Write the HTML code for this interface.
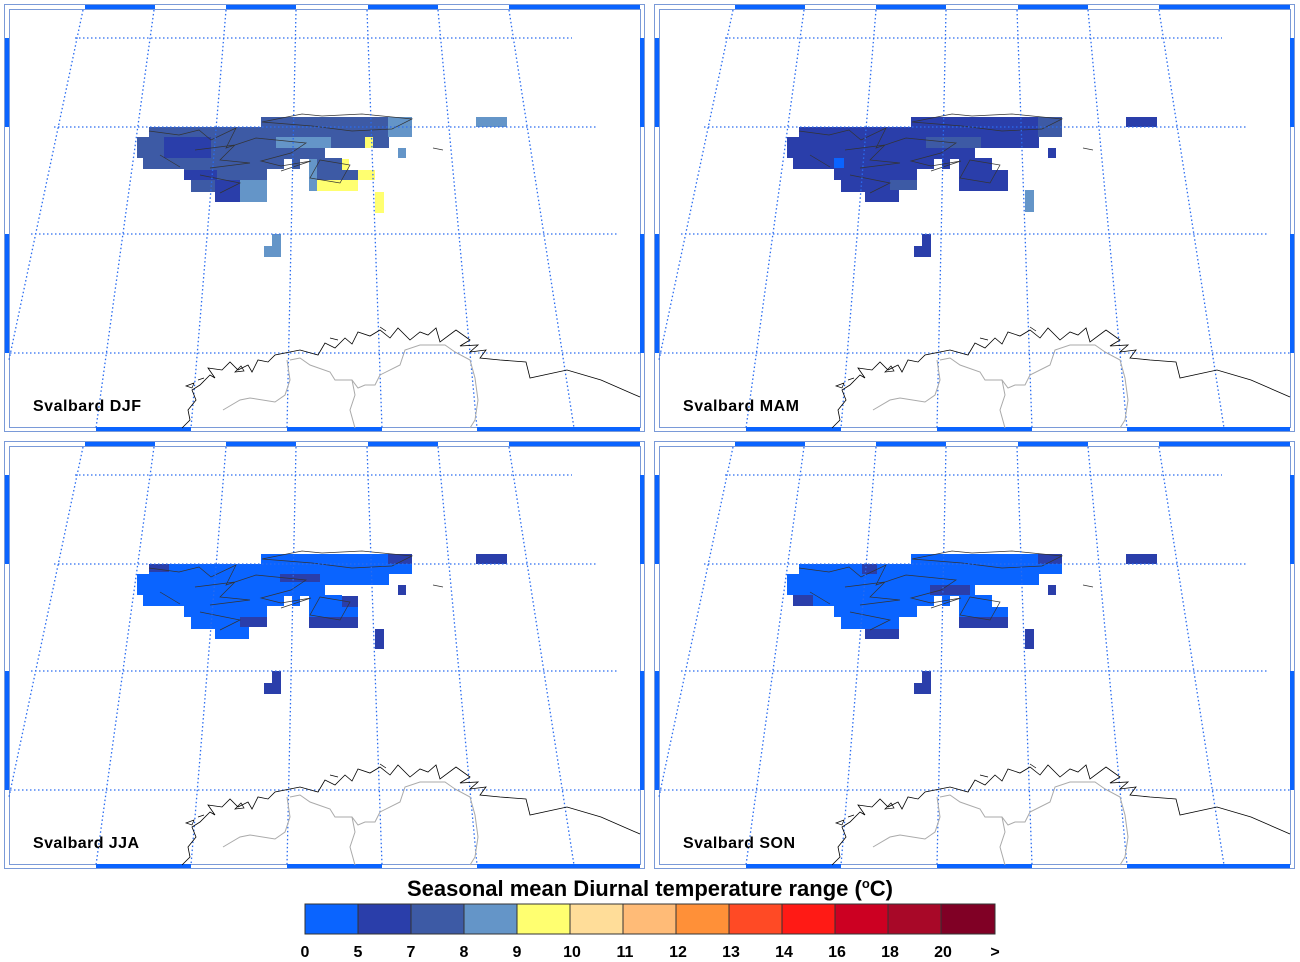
<!DOCTYPE html>
<html><head><meta charset="utf-8"><style>
html,body{margin:0;padding:0;background:#fff;}
svg{display:block;font-family:"Liberation Sans",sans-serif;}
</style></head><body>
<svg width="1300" height="962" viewBox="0 0 1300 962" xmlns="http://www.w3.org/2000/svg">
<defs>
<g id="frame">
  <rect x="4.5" y="4.5" width="640" height="427" fill="none" stroke="#7a9ad8" stroke-width="1"/>
  <rect x="9.5" y="9.5" width="631" height="418" fill="none" stroke="#7a9ad8" stroke-width="1"/>
  <g fill="#0a64ff">
    <rect x="85" y="5" width="70" height="4"/><rect x="226" y="5" width="70" height="4"/>
    <rect x="368" y="5" width="70" height="4"/><rect x="509" y="5" width="131" height="4"/>
    <rect x="96" y="427" width="95" height="4"/><rect x="287" y="427" width="95" height="4"/>
    <rect x="477" y="427" width="163" height="4"/>
    <rect x="5" y="38" width="4" height="89"/><rect x="5" y="234" width="4" height="119"/>
    <rect x="640" y="38" width="4" height="89"/><rect x="640" y="234" width="4" height="119"/>
  </g>
  <g stroke="#2a6cf0" stroke-width="1.3" stroke-dasharray="1.5,2.5" fill="none">
    <line x1="75" y1="38" x2="572" y2="38"/><line x1="54" y1="127" x2="597" y2="127"/>
    <line x1="31" y1="234" x2="619" y2="234"/><line x1="10" y1="353" x2="640" y2="353"/>
    <line x1="83" y1="10" x2="9" y2="360"/><line x1="154" y1="10" x2="96" y2="428"/>
    <line x1="226" y1="10" x2="191" y2="428"/><line x1="296" y1="10" x2="287" y2="428"/>
    <line x1="367" y1="10" x2="382" y2="428"/><line x1="438" y1="10" x2="477" y2="428"/>
    <line x1="509" y1="10" x2="574" y2="428"/>
  </g>
  <polyline fill="none" stroke="#aaa" stroke-width="1" points="290,360 300,358 310,365 330,372 335,380 352,380 358,388 365,385 375,385 380,375 400,365 405,350 420,345 445,345 455,352 470,360 475,378 478,400 475,420 470,428"/>
  <polyline fill="none" stroke="#aaa" stroke-width="1" points="223,410 240,400 250,398 275,402 285,395 290,380 287,360"/>
  <polyline fill="none" stroke="#aaa" stroke-width="1" points="352,380 355,395 350,410 355,428"/>
  <polyline fill="none" stroke="#000" stroke-width="0.8" points="182,428 190,420 188,410 196,400 192,390 200,385 210,375 215,378 208,368 222,370 230,362 238,370 248,365 252,372 258,360 268,362 275,355 290,352 300,350 318,355 325,343 335,348 345,338 352,344 358,332 370,336 380,330 390,338 398,328 410,340 420,332 428,335 436,328 440,342 456,330 470,340 460,346 478,345 470,352 486,350 480,358 500,360 526,362 530,378 567,370 601,380 640,397"/>
  <path fill="none" stroke="#000" stroke-width="0.7" d="M186,386l8,-3l-2,5zM198,380l6,-2M235,372l6,-6l3,5zM330,338l8,2M380,327l6,4"/>
</g>
<path id="blob" d="M149,127H261V117H412V137H389V148H325V158H342V170H358V191H309V159H300V169H292V159H284V169H267V180H249V202H215V192H191V180H184V169H143V158H137V137H149Z"/>
<path id="coastS" fill="none" stroke="#333" stroke-width="0.7" d="M149,131l30,4l20,-5l12,10l25,-12l-10,20l30,-10l50,5l-15,10l-30,8l20,5l30,-5l-30,10M195,150l40,-5l-15,15l30,3l-40,5M200,175l40,8l-20,10M160,155l20,12M320,160l30,5l-10,18l-30,-5zM262,122l40,-8l20,2l40,-2l50,5l-20,10l-40,2l-40,-5zM433,148l10,2"/>
</defs>

<g>
  <use href="#blob" fill="#3d5aa5"/>
  <rect x="164" y="137" width="47" height="21" fill="#2a3eaa"/>
  <rect x="184" y="170" width="33" height="10" fill="#2a3eaa"/>
  <rect x="215" y="180" width="34" height="22" fill="#2a3eaa"/>
  <rect x="276" y="137" width="55" height="11" fill="#6495c8"/>
  <rect x="388" y="117" width="24" height="20" fill="#6495c8"/>
  <rect x="240" y="180" width="27" height="22" fill="#6495c8"/>
  <rect x="309" y="159" width="8" height="32" fill="#6495c8"/>
  <rect x="476" y="117" width="31" height="10" fill="#6495c8"/>
  <rect x="398" y="148" width="8" height="10" fill="#6495c8"/>
  <path d="M272,234H281V257H264V246H272Z" fill="#6495c8"/>
  <g fill="#ffff70"><rect x="365" y="137" width="8" height="11"/><rect x="342" y="159" width="7" height="11"/><rect x="358" y="170" width="17" height="10"/><rect x="317" y="180" width="41" height="11"/><rect x="375" y="192" width="9" height="21"/></g>
  <use href="#coastS"/>
  <use href="#frame"/>
  <text x="33" y="411" font-size="16" font-weight="bold" textLength="108">Svalbard DJF</text>
</g>

<g transform="translate(650,0)">
  <use href="#blob" fill="#2a3eaa"/>
  <rect x="276" y="137" width="55" height="11" fill="#3d5aa5"/>
  <rect x="388" y="117" width="24" height="20" fill="#3d5aa5"/>
  <rect x="240" y="180" width="27" height="10" fill="#3d5aa5"/>
  <rect x="184" y="158" width="10" height="10" fill="#0a64ff"/>
  <rect x="476" y="117" width="31" height="10" fill="#2a3eaa"/>
  <rect x="398" y="148" width="8" height="10" fill="#2a3eaa"/>
  <rect x="375" y="190" width="9" height="22" fill="#6495c8"/>
  <path d="M272,234H281V257H264V246H272Z" fill="#2a3eaa"/>
  <use href="#coastS"/>
  <use href="#frame"/>
  <text x="33" y="411" font-size="16" font-weight="bold" textLength="116">Svalbard MAM</text>
</g>

<g transform="translate(0,437)">
  <use href="#blob" fill="#0a64ff"/>
  <rect x="388" y="117" width="24" height="10" fill="#2a3eaa"/>
  <rect x="280" y="137" width="40" height="8" fill="#2a3eaa"/>
  <rect x="309" y="180" width="49" height="11" fill="#2a3eaa"/>
  <rect x="342" y="159" width="16" height="11" fill="#2a3eaa"/>
  <rect x="240" y="180" width="27" height="10" fill="#2a3eaa"/>
  <rect x="149" y="127" width="20" height="8" fill="#2a3eaa"/>
  <rect x="476" y="117" width="31" height="10" fill="#2a3eaa"/>
  <rect x="398" y="148" width="8" height="10" fill="#2a3eaa"/>
  <rect x="375" y="192" width="9" height="20" fill="#2a3eaa"/>
  <path d="M272,234H281V257H264V246H272Z" fill="#2a3eaa"/>
  <use href="#coastS"/>
  <use href="#frame"/>
  <text x="33" y="411" font-size="16" font-weight="bold" textLength="106">Svalbard JJA</text>
</g>

<g transform="translate(650,437)">
  <use href="#blob" fill="#0a64ff"/>
  <rect x="388" y="117" width="24" height="10" fill="#2a3eaa"/>
  <rect x="212" y="127" width="15" height="10" fill="#2a3eaa"/>
  <rect x="143" y="158" width="20" height="11" fill="#2a3eaa"/>
  <rect x="309" y="180" width="49" height="11" fill="#2a3eaa"/>
  <rect x="280" y="148" width="40" height="10" fill="#2a3eaa"/>
  <rect x="215" y="192" width="34" height="10" fill="#2a3eaa"/>
  <rect x="476" y="117" width="31" height="10" fill="#2a3eaa"/>
  <rect x="398" y="148" width="8" height="10" fill="#2a3eaa"/>
  <rect x="375" y="192" width="9" height="20" fill="#2a3eaa"/>
  <path d="M272,234H281V257H264V246H272Z" fill="#2a3eaa"/>
  <use href="#coastS"/>
  <use href="#frame"/>
  <text x="33" y="411" font-size="16" font-weight="bold" textLength="112">Svalbard SON</text>
</g>

<text x="650" y="896" font-size="22" font-weight="bold" text-anchor="middle">Seasonal mean Diurnal temperature range (<tspan font-size="13" dy="-8">o</tspan><tspan dy="8">C)</tspan></text>
<g stroke="#333" stroke-width="1">
  <rect x="305" y="904" width="53" height="30" fill="#0a64ff"/>
  <rect x="358" y="904" width="53" height="30" fill="#2a3eaa"/>
  <rect x="411" y="904" width="53" height="30" fill="#3d5aa5"/>
  <rect x="464" y="904" width="53" height="30" fill="#6495c8"/>
  <rect x="517" y="904" width="53" height="30" fill="#ffff70"/>
  <rect x="570" y="904" width="53" height="30" fill="#ffdd99"/>
  <rect x="623" y="904" width="53" height="30" fill="#ffbb77"/>
  <rect x="676" y="904" width="53" height="30" fill="#ff9038"/>
  <rect x="729" y="904" width="53" height="30" fill="#ff4a25"/>
  <rect x="782" y="904" width="53" height="30" fill="#ff1a15"/>
  <rect x="835" y="904" width="53" height="30" fill="#cc0022"/>
  <rect x="888" y="904" width="53" height="30" fill="#a80828"/>
  <rect x="941" y="904" width="54" height="30" fill="#800025"/>
</g>
<g font-size="16" font-weight="bold" text-anchor="middle">
  <text x="305" y="957">0</text><text x="358" y="957">5</text><text x="411" y="957">7</text>
  <text x="464" y="957">8</text><text x="517" y="957">9</text><text x="572" y="957">10</text>
  <text x="625" y="957">11</text><text x="678" y="957">12</text><text x="731" y="957">13</text>
  <text x="784" y="957">14</text><text x="837" y="957">16</text><text x="890" y="957">18</text>
  <text x="943" y="957">20</text><text x="995" y="957">&gt;</text>
</g>
</svg>
</body></html>
